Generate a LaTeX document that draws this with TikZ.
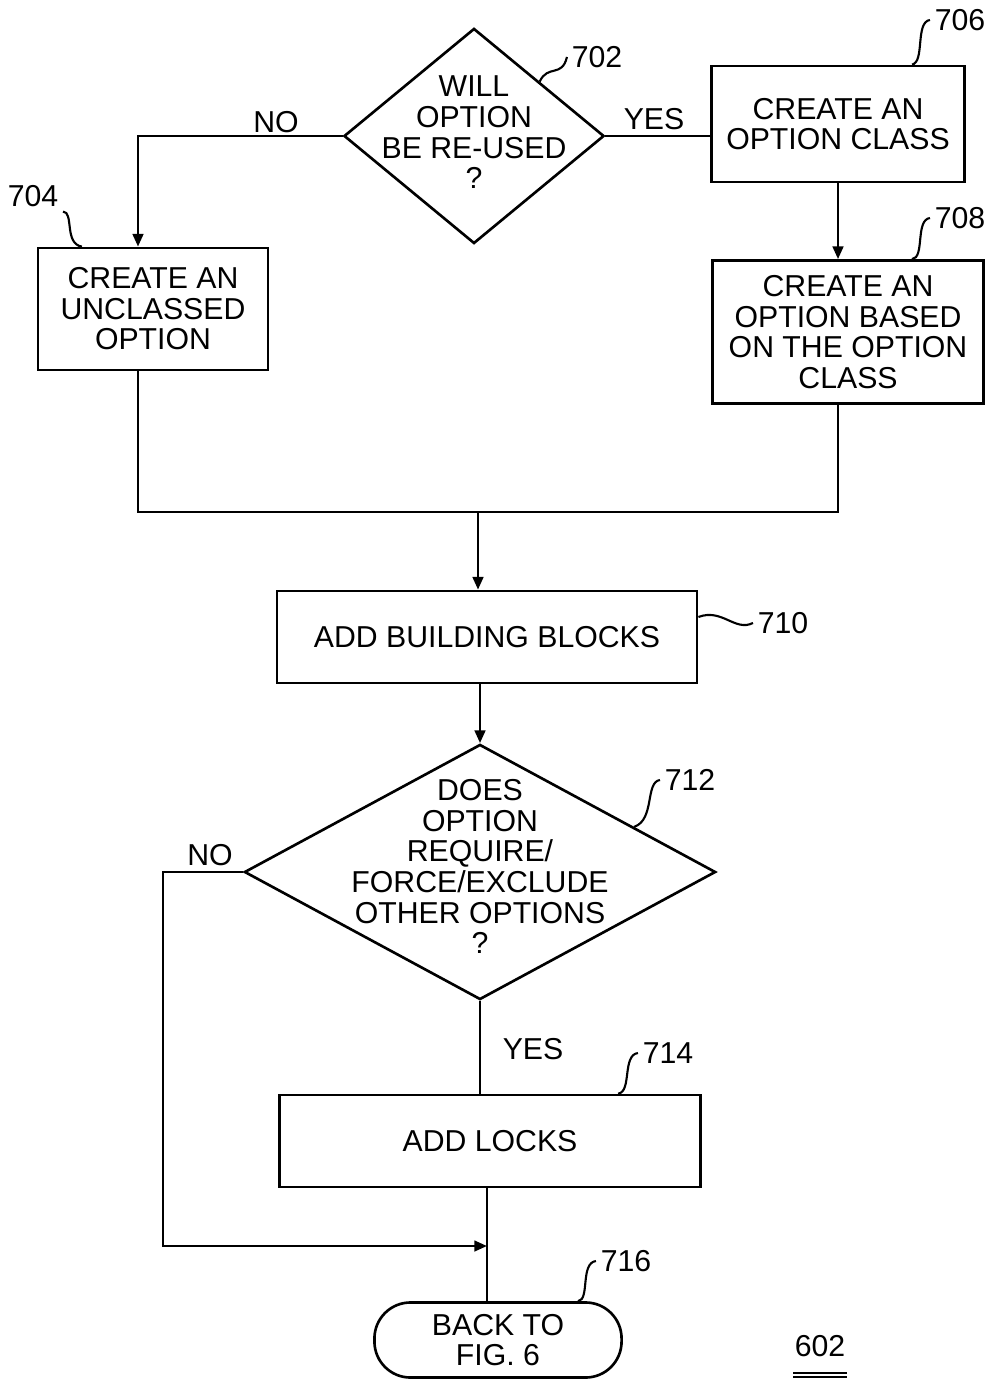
\documentclass[tikz,border=0pt]{standalone}
\usepackage{fontspec}
\setmainfont{Liberation Sans}
\usetikzlibrary{shapes.geometric,arrows.meta,positioning,calc}

\begin{document}
\begin{tikzpicture}[x=0.01cm,y=-0.01cm,line width=0.75pt,
    every node/.style={font=\fontsize{8.6}{8.7}\selectfont},
    stepbox/.style={draw,rectangle,align=center,inner sep=0pt},
    decision/.style={draw,diamond,inner sep=0pt},
    endbox/.style={draw,rectangle,rounded corners=0.36cm,align=center,inner sep=0pt,minimum width=2.47cm,minimum height=0.75cm},
    tag/.style={inner sep=1pt},
    flow/.style={-{Triangle[length=3.6pt,width=3pt]}},
    leader/.style={line width=0.6pt}]
    \useasboundingbox (0,0) rectangle (990,1380);
    % first decision
    \node[decision,minimum width=2.6cm,minimum height=2.15cm,
        label={[align=center,yshift=1pt]center:WILL\\OPTION\\BE RE-USED\\?}] (q702) at (474,136) {};
    \node[stepbox,minimum width=2.30cm,minimum height=1.22cm] (b704) at (153,309) {CREATE AN\\UNCLASSED\\OPTION};
    \node[stepbox,minimum width=2.53cm,minimum height=1.16cm] (b706) at (838,124) {CREATE AN\\OPTION CLASS};
    \node[stepbox,minimum width=2.71cm,minimum height=1.43cm] (b708) at (848,332) {CREATE AN\\OPTION BASED\\ON THE OPTION\\CLASS};
    \draw[flow] (q702.west) -| ([xshift=-0.15cm]b704.north);
    \node (no702) at (276,122) {NO};
    \draw (q702.east) -- (q702.east -| b706.west);
    \node (yes702) at (654,119) {YES};
    \draw[flow] (b706.south) -- (b706.south |- b708.north);
    % join
    \coordinate (join) at (478,512);
    \draw ([xshift=-0.15cm]b704.south) |- (join) -| (b706.south |- b708.south);
    \node[stepbox,minimum width=4.20cm,minimum height=0.92cm] (b710) at (487,637) {ADD BUILDING BLOCKS};
    \draw[flow] (join) -- (join |- b710.north);
    % second decision
    \node[decision,minimum width=4.71cm,minimum height=2.55cm,
        label={[align=center,yshift=1.5pt]center:DOES\\OPTION\\REQUIRE/\\FORCE/EXCLUDE\\OTHER OPTIONS\\?}] (q712) at (480,872) {};
    \draw[flow] (q712.north |- b710.south) -- (q712.north);
    \node[stepbox,minimum width=4.21cm,minimum height=0.92cm] (b714) at (490,1141) {ADD LOCKS};
    \draw (q712.south) -- (q712.south |- b714.north);
    \node (yes712) at (533,1049) {YES};
    \node[endbox] (e716) at (498,1340) {BACK TO\\FIG. 6};
    \draw ([xshift=-0.03cm]b714.south) -- ([xshift=-0.03cm]b714.south |- e716.north);
    \coordinate (m2) at (487,1246);
    \coordinate (nocorner) at (163,1246);
    \draw[flow] (q712.west) -| (nocorner) -- (m2);
    \node (no712) at (210,855) {NO};
    % reference numbers
    \node[tag] (t702) at (597,57) {702};
    \node[tag] (t704) at (33,196) {704};
    \node[tag] (t706) at (960,20) {706};
    \node[tag] (t708) at (960,218) {708};
    \node[tag] (t710) at (783,623) {710};
    \node[tag] (t712) at (690,780) {712};
    \node[tag] (t714) at (668,1053) {714};
    \node[tag] (t716) at (626,1261) {716};
    \draw[leader] (t702.west) .. controls (562,78) and (548,64) .. ($(q702.north)!0.5!(q702.east)$);
    \draw[leader] (t704.south east) .. controls (74,212) and (64,244) .. ([xshift=-0.71cm]b704.north);
    \draw[leader] (t706.west) .. controls (915,22) and (925,62) .. ([xshift=0.74cm]b706.north);
    \draw[leader] (t708.west) .. controls (915,220) and (925,258) .. ([xshift=0.64cm]b708.north);
    \draw[leader] ([yshift=0.2cm]b710.east) .. controls (722,608) and (735,632) .. (t710.west);
    \draw[leader] (t712.west) .. controls (645,782) and (655,820) .. ($(q712.north)!0.65!(q712.east)$);
    \draw[leader] (t714.west) .. controls (622,1055) and (632,1092) .. ([xshift=1.28cm]b714.north);
    \draw[leader] (t716.west) .. controls (580,1263) and (590,1300) .. ([xshift=0.8cm]e716.north);
    % figure number
    \node[inner sep=0pt] (fig602) at (820,1346) {602};
    \draw[line width=0.5pt] ([yshift=-0.15cm]fig602.south west) -- ([yshift=-0.15cm]fig602.south east);
    \draw[line width=0.5pt] ([yshift=-0.19cm]fig602.south west) -- ([yshift=-0.19cm]fig602.south east);
\end{tikzpicture}
\end{document}
